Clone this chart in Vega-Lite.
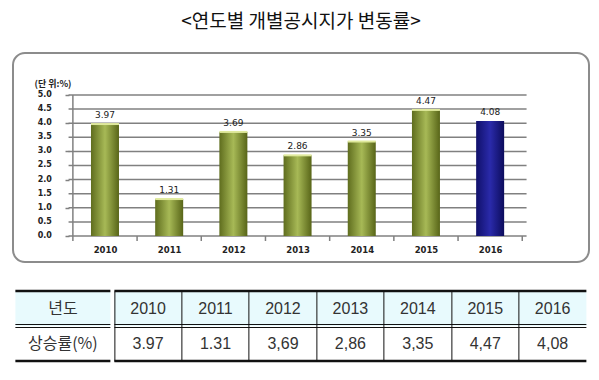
{
  "$schema": "https://vega.github.io/schema/vega-lite/v6.json",
  "background": "white",
  "padding": {"left": 12, "right": 11, "top": 13, "bottom": 10},
  "title": {"text": "<연도별 개별공시지가 변동률>", "font": "Noto Sans CJK KR", "fontSize": 19, "fontWeight": "normal", "color": "#111", "anchor": "middle", "offset": 20},
  "config": {"view": {"stroke": null}},
  "spacing": 26,
  "center": true,
  "vconcat": [
    {
      "width": 576,
      "height": 209,
      "view": {"stroke": "#8c8c8c", "strokeWidth": 2, "cornerRadius": 12, "fill": "white"},
      "data": {"values": [
        {"year": 2010, "rate": 3.97},
        {"year": 2011, "rate": 1.31},
        {"year": 2012, "rate": 3.69},
        {"year": 2013, "rate": 2.86},
        {"year": 2014, "rate": 3.35},
        {"year": 2015, "rate": 4.47},
        {"year": 2016, "rate": 4.08}
      ]},
      "layer": [
        {
          "data": {"values": [{"t": 0}, {"t": 0.5}, {"t": 1.0}, {"t": 1.5}, {"t": 2.0}, {"t": 2.5}, {"t": 3.0}, {"t": 3.5}, {"t": 4.0}, {"t": 4.5}, {"t": 5.0}]},
          "mark": {"type": "text", "align": "right", "baseline": "middle", "dx": -21, "font": "DejaVu Sans", "fontSize": 8, "fontWeight": "bold", "color": "#222"},
          "encoding": {
            "y": {"field": "t", "type": "quantitative",
              "scale": {"domain": [-0.922, 6.489], "nice": false, "zero": false},
              "axis": {"orient": "left", "offset": -56, "domain": false, "grid": false, "labels": false,
                "values": [0, 0.5, 1, 1.5, 2, 2.5, 3, 3.5, 4, 4.5, 5],
                "tickSize": 4, "tickColor": "#808080", "tickWidth": 1.5,
                "title": "(단 위:%)", "titleAngle": 0, "titleAlign": "left", "titleBaseline": "middle",
                "titleX": -35, "titleY": 30, "titleFont": "Noto Sans CJK KR", "titleFontSize": 9, "titleFontWeight": "bold", "titleColor": "#222"}},
            "x": {"datum": 2009.5, "type": "quantitative",
              "scale": {"domain": [2008.645, 2017.462], "nice": false, "zero": false},
              "axis": {"orient": "bottom", "offset": -26, "values": [2010, 2011, 2012, 2013, 2014, 2015, 2016], "format": "d",
                "domain": false, "ticks": false, "grid": false, "labelPadding": 9, "labelOverlap": false,
                "labelFont": "DejaVu Sans", "labelFontSize": 8.5, "labelFontWeight": "bold", "labelColor": "#222", "title": null}},
            "text": {"field": "t", "type": "quantitative", "format": ".1f"}
          }
        },
        {
          "data": {"values": [{"t": 0}, {"t": 0.5}, {"t": 1.0}, {"t": 1.5}, {"t": 2.0}, {"t": 2.5}, {"t": 3.0}, {"t": 3.5}, {"t": 4.0}, {"t": 4.5}, {"t": 5.0}]},
          "mark": {"type": "tick", "orient": "horizontal", "size": 458, "thickness": 1.5, "color": "#808080", "opacity": 1},
          "encoding": {
            "y": {"field": "t", "type": "quantitative"},
            "x": {"datum": 2013, "type": "quantitative"}
          }
        },
        {
          "data": {"values": [{"t": 2.5}]},
          "mark": {"type": "tick", "orient": "vertical", "size": 141, "thickness": 1.5, "color": "#808080", "opacity": 1},
          "encoding": {
            "x": {"datum": 2009.5, "type": "quantitative"},
            "y": {"field": "t", "type": "quantitative"}
          }
        },
        {
          "data": {"values": [{"b": 2009.5}, {"b": 2010.5}, {"b": 2011.5}, {"b": 2012.5}, {"b": 2013.5}, {"b": 2014.5}, {"b": 2015.5}, {"b": 2016.5}]},
          "mark": {"type": "tick", "orient": "vertical", "size": 5, "thickness": 1.5, "color": "#808080", "opacity": 1, "yOffset": 2.5},
          "encoding": {
            "x": {"field": "b", "type": "quantitative"},
            "y": {"datum": 0, "type": "quantitative"}
          }
        },
        {
          "transform": [{"filter": "datum.year < 2016"}],
          "mark": {"type": "bar", "orient": "vertical", "width": 28,
            "color": {"gradient": "linear", "x1": 0, "y1": 0, "x2": 1, "y2": 0,
              "stops": [{"offset": 0, "color": "#5f6d1e"}, {"offset": 0.5, "color": "#a7b956"}, {"offset": 1, "color": "#586518"}]}},
          "encoding": {
            "x": {"field": "year", "type": "quantitative"},
            "y": {"field": "rate", "type": "quantitative"}
          }
        },
        {
          "transform": [{"filter": "datum.year == 2016"}],
          "mark": {"type": "bar", "orient": "vertical", "width": 28,
            "color": {"gradient": "linear", "x1": 0, "y1": 0, "x2": 1, "y2": 0,
              "stops": [{"offset": 0, "color": "#10106a"}, {"offset": 0.5, "color": "#2a2aaa"}, {"offset": 1, "color": "#0c0c5c"}]}},
          "encoding": {
            "x": {"field": "year", "type": "quantitative"},
            "y": {"field": "rate", "type": "quantitative"}
          }
        },
        {
          "transform": [{"filter": "datum.year < 2016"}],
          "mark": {"type": "tick", "orient": "horizontal", "size": 28, "thickness": 2, "color": "#dfe99c", "opacity": 1},
          "encoding": {
            "x": {"field": "year", "type": "quantitative"},
            "y": {"field": "rate", "type": "quantitative"}
          }
        },
        {
          "mark": {"type": "text", "baseline": "middle", "dy": -9, "font": "DejaVu Sans", "fontSize": 9, "color": "#222"},
          "encoding": {
            "x": {"field": "year", "type": "quantitative"},
            "y": {"field": "rate", "type": "quantitative"},
            "text": {"field": "rate", "type": "quantitative", "format": ".2f"}
          }
        }
      ]
    },
    {
      "spacing": 0,
      "hconcat": [
        {
          "width": 95,
          "height": 70,
          "view": {"stroke": null},
          "data": {"values": [{"row": "h", "label": "년도"}, {"row": "d", "label": "상승률(%)"}]},
          "encoding": {
            "y": {"field": "row", "type": "nominal", "scale": {"domain": ["h", "d"], "paddingInner": 0, "paddingOuter": 0}, "axis": null}
          },
          "layer": [
            {"transform": [{"filter": "datum.row === 'h'"}], "mark": {"type": "rect", "color": "#e8fafd"}},
            {"mark": {"type": "text", "font": "Noto Sans CJK KR", "fontSize": 16, "color": "#333"}, "encoding": {"text": {"field": "label"}}},
            {"data": {"values": [{"row": "h"}]}, "mark": {"type": "rule", "color": "#111", "strokeWidth": 2.5}, "encoding": {"y": {"field": "row", "type": "nominal", "bandPosition": 0}}},
            {"data": {"values": [{"row": "d"}]}, "mark": {"type": "rule", "color": "#111", "strokeWidth": 1, "yOffset": -1.5}, "encoding": {"y": {"field": "row", "type": "nominal", "bandPosition": 0}}},
            {"data": {"values": [{"row": "d"}]}, "mark": {"type": "rule", "color": "#111", "strokeWidth": 1, "yOffset": 1.5}, "encoding": {"y": {"field": "row", "type": "nominal", "bandPosition": 0}}},
            {"data": {"values": [{"row": "d"}]}, "mark": {"type": "rule", "color": "#111", "strokeWidth": 2.5}, "encoding": {"y": {"field": "row", "type": "nominal", "bandPosition": 1}}}
          ]
        },
        {
          "width": 472,
          "height": 70,
          "view": {"stroke": null},
          "data": {"values": [
            {"col": "2010", "row": "h", "label": "2010"},
            {"col": "2011", "row": "h", "label": "2011"},
            {"col": "2012", "row": "h", "label": "2012"},
            {"col": "2013", "row": "h", "label": "2013"},
            {"col": "2014", "row": "h", "label": "2014"},
            {"col": "2015", "row": "h", "label": "2015"},
            {"col": "2016", "row": "h", "label": "2016"},
            {"col": "2010", "row": "d", "label": "3.97"},
            {"col": "2011", "row": "d", "label": "1.31"},
            {"col": "2012", "row": "d", "label": "3,69"},
            {"col": "2013", "row": "d", "label": "2,86"},
            {"col": "2014", "row": "d", "label": "3,35"},
            {"col": "2015", "row": "d", "label": "4,47"},
            {"col": "2016", "row": "d", "label": "4,08"}
          ]},
          "encoding": {
            "x": {"field": "col", "type": "ordinal", "scale": {"paddingInner": 0, "paddingOuter": 0},
              "axis": {"orient": "top", "labels": false, "ticks": false, "domain": false, "grid": true, "gridColor": "#111", "gridWidth": 1, "gridOpacity": 1, "bandPosition": 0, "zindex": 1, "title": null}},
            "y": {"field": "row", "type": "nominal", "scale": {"domain": ["h", "d"], "paddingInner": 0, "paddingOuter": 0}, "axis": null}
          },
          "layer": [
            {"transform": [{"filter": "datum.row === 'h'"}], "mark": {"type": "rect", "color": "#e8fafd"}},
            {"mark": {"type": "text", "font": "Liberation Sans", "fontSize": 16, "color": "#333"}, "encoding": {"text": {"field": "label"}}},
            {"data": {"values": [{"row": "h"}]}, "mark": {"type": "rule", "color": "#111", "strokeWidth": 2.5}, "encoding": {"x": null, "y": {"field": "row", "type": "nominal", "bandPosition": 0}}},
            {"data": {"values": [{"row": "d"}]}, "mark": {"type": "rule", "color": "#111", "strokeWidth": 1, "yOffset": -1.5}, "encoding": {"x": null, "y": {"field": "row", "type": "nominal", "bandPosition": 0}}},
            {"data": {"values": [{"row": "d"}]}, "mark": {"type": "rule", "color": "#111", "strokeWidth": 1, "yOffset": 1.5}, "encoding": {"x": null, "y": {"field": "row", "type": "nominal", "bandPosition": 0}}},
            {"data": {"values": [{"row": "d"}]}, "mark": {"type": "rule", "color": "#111", "strokeWidth": 2.5}, "encoding": {"x": null, "y": {"field": "row", "type": "nominal", "bandPosition": 1}}}
          ]
        }
      ]
    }
  ]
}
